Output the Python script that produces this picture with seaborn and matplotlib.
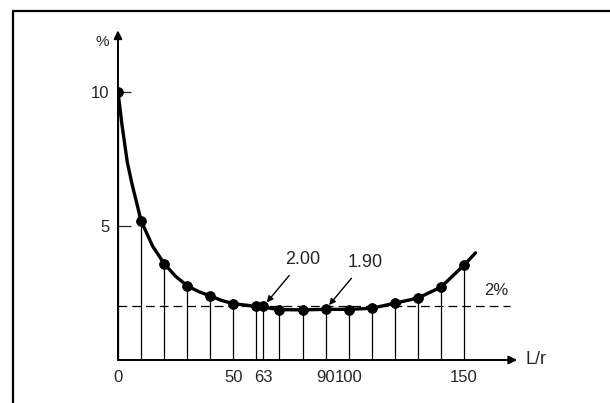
import matplotlib
matplotlib.use("Agg")

import pandas as pd
import matplotlib.pyplot as plt
from matplotlib.lines import Line2D
import seaborn as sns

# -------------------------
# DATA
# -------------------------
points_x = [0, 10, 20, 30, 40, 50, 60, 63, 70, 80, 90, 100, 110, 120, 130, 140, 150]
points_y = [10.0, 5.2, 3.6, 2.77, 2.39, 2.1, 2.0, 2.0, 1.88, 1.87, 1.9, 1.88, 1.93, 2.12, 2.31, 2.72, 3.54]

# the drawn curve, traced at a few more spots
curve_x = [0, 1, 1.7, 4, 6, 8, 10, 15, 20, 25, 30, 35, 40, 45, 50, 60, 63, 70, 80,
           90, 100, 110, 120, 130, 140, 150, 155]
curve_y = [10.0, 9.3, 8.8, 7.4, 6.6, 5.9, 5.2, 4.25, 3.6, 3.12, 2.77, 2.55, 2.39, 2.22,
           2.1, 2.0, 1.97, 1.88, 1.87, 1.89, 1.89, 1.93, 2.12, 2.31, 2.72, 3.54, 4.0]

x_ticks = [0, 50, 63, 90, 100, 150]
y_ticks = [5, 10]
limit_pct = 2.0

notes = [("2.00", 63, 2.0), ("1.90", 90, 1.9)]

curve = pd.DataFrame({"L/r": curve_x, "pct": curve_y})
dots = pd.DataFrame({"L/r": points_x, "pct": points_y})

sns.set_style("white")
plt.rcParams["font.family"] = ["Liberation Sans", "DejaVu Sans"]

fig = plt.figure(figsize=(6.1, 4.03), dpi=100)
ax = fig.add_axes([0.1934, 0.1067, 0.6619, 0.838])

# outer frame of the scanned figure
fig.add_artist(Line2D([0.021, 0.021], [0.0, 0.973], color="black", lw=1.6))
fig.add_artist(Line2D([0.021, 1.0], [0.973, 0.973], color="black", lw=1.6))

# -------------------------
# DROP LINES + CURVE + DOTS
# -------------------------
ax.vlines(dots["L/r"], 0, dots["pct"], color="black", lw=0.9)

ax.axhline(limit_pct, xmin=0, xmax=170 / 175, color="black", lw=0.9,
           linestyle=(0, (7, 4)))

sns.lineplot(data=curve, x="L/r", y="pct", ax=ax, color="black", lw=2.4,
             sort=False)
sns.scatterplot(data=dots, x="L/r", y="pct", ax=ax, color="black", s=50,
                edgecolor="black", zorder=5)

# -------------------------
# AXES WITH ARROWS
# -------------------------
ax.set_xlim(0, 175)
ax.set_ylim(0, 12.6)
for s in ax.spines.values():
    s.set_visible(False)

arrow = dict(arrowstyle="-|>", color="black", lw=1.4, mutation_scale=12,
             shrinkA=0, shrinkB=0)
ax.annotate("", xy=(173, 0), xytext=(0, 0), arrowprops=arrow, annotation_clip=False)
ax.annotate("", xy=(0, 12.3), xytext=(0, 0), arrowprops=arrow, annotation_clip=False)

ax.set_xticks(x_ticks)
ax.set_xticklabels([str(v) for v in x_ticks])
ax.set_yticks(y_ticks)
ax.set_yticklabels([str(v) for v in y_ticks])
ax.tick_params(axis="x", length=0, pad=7, labelsize=12)
ax.tick_params(axis="y", direction="in", length=9, width=0.9, pad=6, labelsize=12,
               left=True)
ax.set_xlabel("")
ax.set_ylabel("")

ax.text(181, 0, "L/r", fontsize=13, ha="center", va="center", clip_on=False)
ax.text(-6.9, 11.87, "%", fontsize=11, ha="center", va="center", clip_on=False)
ax.text(164, 2.6, "2%", fontsize=12, ha="center", va="center")

for label, nx, ny in notes:
    ax.annotate(label, xy=(nx + 1.5, ny + 0.15), xytext=(nx + 17, ny + 1.75),
                fontsize=13, ha="center", va="center",
                arrowprops=dict(arrowstyle="-|>", color="black", lw=1.0,
                                mutation_scale=9, shrinkA=4, shrinkB=0))

fig.savefig("out.png", dpi=100)
